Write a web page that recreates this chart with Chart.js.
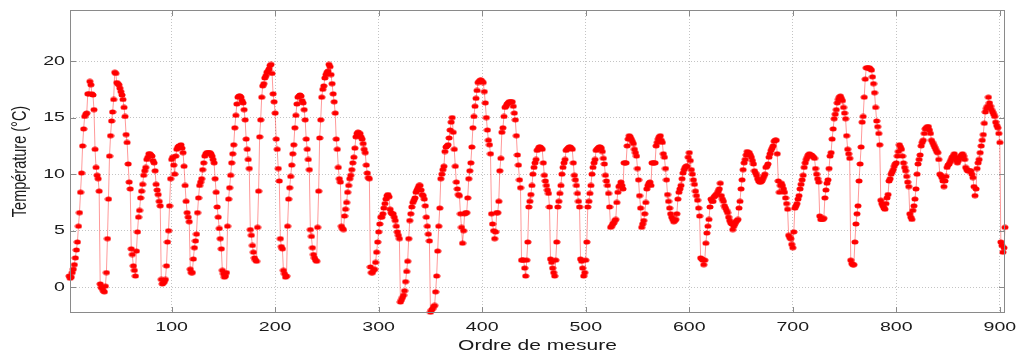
<!DOCTYPE html>
<html>
<head>
<meta charset="utf-8">
<script src="https://cdn.jsdelivr.net/npm/chart.js@4.4.1/dist/chart.umd.min.js"></script>
<style>
  html, body { margin: 0; padding: 0; background: #ffffff; }
  #wrap { width: 1022px; height: 356px; }
</style>
</head>
<body>
<div id="wrap"><canvas id="chart" width="1022" height="356"></canvas></div>
<script>
// Température mesurée, dans l'ordre des mesures (1, 2, 3, ...)
const temperature = [
  1.0, 0.8, 0.9, 1.3, 1.6, 2.0, 2.6, 3.3, 4.0, 5.4,
  6.6, 8.4, 10.1, 12.5, 14.0, 15.1, 15.3, 15.4, 17.1, 17.1,
  18.2, 17.9, 17.1, 17.0, 15.7, 12.2, 10.6, 9.9, 9.6, 8.5,
  0.3, 0.0, -0.1, -0.3, -0.4, 0.1, 1.3, 4.3, 7.8, 11.6,
  13.4, 14.7, 15.5, 16.6, 19.0, 18.9, 18.1, 18.0, 17.9, 17.6,
  17.3, 17.0, 16.6, 15.9, 15.1, 13.5, 12.8, 10.9, 9.3, 8.7,
  3.4, 2.9, 1.9, 1.5, 1.0, 3.2, 4.9, 6.2, 6.8, 7.9,
  8.5, 9.1, 9.9, 10.3, 10.6, 11.3, 11.5, 11.8, 11.8, 11.7,
  11.6, 11.2, 11.0, 10.3, 9.1, 8.6, 8.2, 7.6, 7.2, 0.7,
  0.3, 0.4, 0.5, 0.7, 1.9, 4.0, 5.0, 7.2, 9.6, 11.3,
  11.5, 10.8, 10.0, 11.6, 12.2, 12.4, 12.5, 12.5, 12.6, 12.3,
  11.9, 10.7, 9.0, 7.6, 6.6, 6.2, 5.8, 1.6, 1.3, 1.3,
  2.5, 3.5, 4.1, 4.7, 6.6, 7.9, 9.0, 9.3, 9.6, 10.4,
  11.0, 11.6, 11.8, 11.9, 11.9, 11.9, 11.9, 11.8, 11.6, 11.3,
  11.0, 9.6, 8.4, 7.1, 6.2, 5.2, 4.3, 3.4, 1.5, 1.2,
  0.9, 1.0, 1.3, 5.4, 7.8, 8.8, 9.9, 11.0, 11.8, 12.6,
  14.1, 15.2, 16.2, 16.8, 16.9, 16.9, 16.8, 16.5, 16.3, 15.7,
  14.8, 13.1, 12.2, 11.3, 10.5, 5.1, 4.6, 3.7, 3.1, 2.6,
  2.4, 2.3, 5.3, 8.5, 13.3, 14.8, 16.8, 17.8, 18.0, 18.5,
  18.7, 19.0, 19.1, 19.3, 19.6, 19.7, 18.9, 17.1, 16.4, 15.4,
  13.1, 12.2, 10.5, 9.4, 4.3, 3.6, 3.4, 1.5, 1.2, 0.9,
  1.0, 5.4, 7.8, 8.8, 9.8, 10.8, 11.8, 12.6, 14.1, 15.2,
  16.2, 16.8, 16.9, 17.0, 16.9, 16.5, 16.3, 15.7, 14.8, 13.1,
  12.2, 11.3, 10.4, 5.1, 4.5, 3.5, 2.9, 2.6, 2.4, 2.3,
  5.3, 8.5, 13.2, 14.8, 16.8, 17.5, 17.8, 18.5, 18.8, 19.0,
  19.1, 19.7, 19.5, 18.8, 18.0, 17.1, 16.4, 15.4, 13.1, 12.2,
  10.6, 9.6, 9.3, 5.4, 5.2, 5.1, 6.3, 6.9, 7.5, 8.4,
  9.0, 9.6, 9.9, 10.4, 11.0, 11.5, 12.3, 13.3, 13.6, 13.7,
  13.6, 13.6, 13.3, 13.1, 12.7, 12.2, 11.9, 10.8, 10.1, 9.7,
  9.6, 1.8, 1.3, 1.3, 1.5, 1.6, 2.2, 3.1, 4.0, 4.9,
  5.6, 6.2, 6.2, 6.5, 7.0, 7.4, 7.8, 8.1, 8.2, 8.0,
  6.9, 6.6, 6.5, 6.5, 6.2, 5.9, 5.4, 4.9, 4.6, 4.3,
  -1.3, -1.1, -0.9, -0.7, -0.3, 0.5, 1.4, 2.3, 4.3, 5.9,
  6.5, 7.1, 7.5, 7.7, 7.9, 8.4, 8.6, 8.8, 9.0, 9.0,
  8.6, 8.2, 8.1, 7.8, 7.2, 6.2, 5.4, 4.7, 4.1, -2.2,
  -2.0, -1.9, -1.7, -1.6, -0.4, 1.0, 3.2, 5.4, 7.0, 9.6,
  10.0, 10.4, 10.7, 12.0, 12.4, 12.5, 12.6, 13.2, 13.9, 14.6,
  15.0, 13.7, 12.2, 10.7, 9.3, 8.7, 8.2, 8.1, 6.5, 5.3,
  3.9, 5.0, 6.5, 6.6, 6.6, 7.9, 9.6, 10.3, 11.0, 12.4,
  14.1, 15.1, 16.0, 16.7, 17.4, 18.1, 18.2, 18.3, 18.3, 18.2,
  18.1, 17.3, 16.3, 15.0, 13.9, 13.0, 12.6, 11.8, 6.5, 5.6,
  5.0, 4.3, 4.9, 6.6, 6.6, 7.6, 10.3, 11.4, 13.7, 14.1,
  15.1, 15.9, 16.0, 16.2, 16.3, 16.4, 16.4, 16.4, 16.4, 16.0,
  15.4, 14.8, 13.4, 11.7, 10.8, 9.5, 8.8, 2.4, 2.4, 2.4,
  1.7, 1.0, 2.4, 4.0, 7.1, 7.6, 8.2, 9.0, 10.0, 10.6,
  11.0, 11.3, 12.1, 12.2, 12.4, 12.4, 12.3, 12.2, 11.0, 9.9,
  9.4, 9.0, 8.6, 8.3, 7.1, 2.5, 2.2, 1.7, 1.3, 1.0,
  2.4, 4.0, 7.1, 7.6, 8.3, 9.0, 10.0, 10.6, 11.0, 11.3,
  12.1, 12.2, 12.3, 12.4, 12.4, 12.3, 12.2, 11.0, 9.9, 9.5,
  9.0, 8.3, 7.6, 7.1, 2.5, 2.3, 1.7, 1.0, 1.3, 2.4,
  4.0, 7.1, 7.6, 8.3, 9.0, 10.0, 10.6, 11.0, 11.3, 12.1,
  12.2, 12.3, 12.4, 12.4, 12.3, 12.0, 11.4, 10.9, 9.9, 9.4,
  9.0, 8.3, 7.1, 5.3, 5.4, 5.6, 5.7, 5.9, 6.0, 7.5,
  8.4, 8.9, 9.0, 9.3, 9.0, 8.7, 11.0, 11.0, 11.0, 12.5,
  13.1, 13.4, 13.3, 13.1, 12.9, 12.7, 12.2, 11.9, 11.6, 10.5,
  9.5, 8.1, 7.0, 5.3, 5.6, 5.9, 6.5, 7.5, 8.7, 9.0,
  9.2, 9.3, 9.0, 11.0, 11.0, 11.0, 11.0, 12.5, 12.8, 13.1,
  13.3, 13.4, 13.0, 12.8, 11.8, 11.5, 10.5, 9.5, 8.2, 7.6,
  7.0, 6.5, 6.2, 6.0, 5.8, 5.9, 6.0, 6.5, 7.8, 8.4,
  8.7, 9.0, 9.6, 10.1, 10.4, 10.6, 10.7, 10.7, 11.5, 11.9,
  11.2, 10.4, 10.0, 9.5, 9.1, 8.5, 8.1, 7.7, 7.0, 6.3,
  2.6, 2.5, 2.4, 2.0, 2.4, 3.9, 4.8, 5.4, 6.0, 7.1,
  7.8, 7.6, 7.6, 8.0, 8.1, 8.2, 8.3, 8.5, 8.7, 9.2,
  8.1, 7.8, 7.6, 7.2, 7.0, 6.8, 6.6, 6.2, 5.9, 5.7,
  5.6, 5.1, 5.4, 5.6, 5.8, 5.9, 6.0, 7.0, 7.6, 8.7,
  9.5, 10.4, 11.0, 11.3, 11.7, 12.0, 11.9, 11.9, 11.7, 11.5,
  11.2, 10.9, 10.3, 10.1, 9.9, 9.6, 9.4, 9.3, 9.3, 9.4,
  9.6, 9.8, 10.0, 10.6, 10.7, 10.9, 11.5, 11.8, 12.1, 12.3,
  12.5, 12.9, 13.0, 13.0, 11.8, 9.4, 8.4, 9.0, 9.2, 9.0,
  8.7, 8.4, 7.9, 7.4, 6.9, 4.6, 4.4, 4.3, 3.8, 3.5,
  4.9, 7.0, 7.2, 7.4, 7.8, 8.1, 8.7, 9.1, 9.5, 9.9,
  10.6, 11.0, 11.3, 11.5, 11.7, 11.8, 11.7, 11.7, 11.6, 11.5,
  11.4, 10.5, 10.0, 9.6, 9.3, 6.3, 6.0, 6.0, 6.0, 6.1,
  7.9, 8.6, 9.2, 9.5, 10.5, 11.6, 11.9, 13.1, 14.0, 14.9,
  15.3, 15.7, 16.3, 16.6, 16.8, 16.9, 16.7, 16.5, 15.9, 15.4,
  14.9, 13.4, 12.2, 11.8, 11.4, 2.4, 2.1, 2.0, 2.0, 4.0,
  5.6, 6.5, 7.2, 9.4, 10.9, 12.4, 14.6, 15.1, 16.8, 18.4,
  19.4, 19.4, 19.4, 19.4, 19.3, 19.2, 18.6, 18.0, 17.2, 15.9,
  14.7, 14.2, 13.6, 12.6, 7.7, 7.4, 7.2, 7.0, 6.9, 7.4,
  7.9, 8.2, 9.4, 9.6, 10.0, 10.2, 10.4, 10.7, 10.9, 11.0,
  11.6, 12.0, 12.6, 12.4, 12.2, 11.6, 11.0, 10.6, 10.3, 9.8,
  9.3, 8.9, 6.5, 6.2, 6.0, 6.8, 7.2, 7.8, 8.7, 10.0,
  10.9, 11.3, 11.7, 12.5, 12.8, 13.0, 13.6, 14.0, 14.1, 14.2,
  14.2, 13.9, 13.6, 13.0, 12.8, 12.6, 12.4, 12.2, 12.0, 11.9,
  11.3, 10.0, 9.9, 9.7, 9.4, 8.9, 9.4, 9.8, 10.6, 10.8,
  10.9, 11.1, 11.3, 11.5, 11.6, 11.8, 11.5, 11.2, 11.0, 11.2,
  11.4, 11.6, 11.7, 11.8, 11.6, 11.3, 10.6, 10.4, 10.3, 10.3,
  10.3, 10.3, 10.0, 9.7, 8.9, 8.1, 8.7, 10.5, 11.0, 11.3,
  11.9, 12.5, 13.0, 13.5, 14.5, 15.5, 15.8, 16.0, 16.8, 16.3,
  16.0, 15.7, 15.5, 15.3, 15.1, 14.6, 14.3, 14.1, 13.6, 12.8,
  4.0, 3.7, 3.1, 3.5, 5.3
];

// Graduations et titres des axes
const xTicks = [100, 200, 300, 400, 500, 600, 700, 800, 900];
const yTicks = [0, 5, 10, 15, 20];
const xTitle = 'Ordre de mesure';
const yTitle = 'Température (°C)';

// Points (ordre, température) pour l'axe linéaire
const points = temperature.map((t, i) => ({ x: i + 1, y: t }));

// Marqueur : disque rouge légèrement aplati
const dot = document.createElement('canvas');
dot.width = 8; dot.height = 6;
{
  const g = dot.getContext('2d');
  g.fillStyle = '#ff0000';
  g.beginPath();
  g.ellipse(4, 3, 3.5, 2.5, 0, 0, Math.PI * 2);
  g.fill();
}

const FONT = '"Liberation Sans", Arial, Helvetica, sans-serif';
const SX = 1.45; // étirement horizontal des textes

// Cadre, graduations internes, libellés et titres
const axesFrame = {
  id: 'axesFrame',
  afterDraw(chart) {
    const { ctx, chartArea: a, scales: { x, y } } = chart;
    ctx.save();
    ctx.strokeStyle = '#8a8a8a';
    ctx.lineWidth = 1;
    ctx.beginPath();
    xTicks.forEach(v => {
      const p = Math.round(x.getPixelForValue(v)) + 0.5;
      ctx.moveTo(p, a.bottom); ctx.lineTo(p, a.bottom - 6);
      ctx.moveTo(p, a.top); ctx.lineTo(p, a.top + 6);
    });
    yTicks.forEach(v => {
      const p = Math.round(y.getPixelForValue(v)) + 0.5;
      ctx.moveTo(a.left, p); ctx.lineTo(a.left + 6, p);
      ctx.moveTo(a.right, p); ctx.lineTo(a.right - 6, p);
    });
    ctx.stroke();
    ctx.strokeRect(a.left + 0.5, a.top + 0.5, a.right - a.left - 1, a.bottom - a.top - 1);

    ctx.fillStyle = '#1a1a1a';
    ctx.textBaseline = 'middle';
    ctx.font = '13.5px ' + FONT;
    ctx.textAlign = 'center';
    xTicks.forEach(v => {
      ctx.save();
      ctx.translate(x.getPixelForValue(v), a.bottom + 14);
      ctx.scale(SX, 1);
      ctx.fillText(String(v), 0, 0);
      ctx.restore();
    });
    ctx.textAlign = 'right';
    yTicks.forEach(v => {
      ctx.save();
      ctx.translate(a.left - 5, y.getPixelForValue(v));
      ctx.scale(SX, 1);
      ctx.fillText(String(v), 0, 0);
      ctx.restore();
    });

    ctx.font = '14.5px ' + FONT;
    ctx.textAlign = 'center';
    ctx.save();
    ctx.translate((a.left + a.right) / 2, a.bottom + 33);
    ctx.scale(SX, 1);
    ctx.fillText(xTitle, 0, 0);
    ctx.restore();

    ctx.save();
    ctx.translate(20, (a.top + a.bottom) / 2);
    ctx.scale(SX, 1);
    ctx.rotate(-Math.PI / 2);
    ctx.fillText(yTitle, 0, 0);
    ctx.restore();
    ctx.restore();
  }
};

new Chart(document.getElementById('chart'), {
  type: 'line',
  data: {
    datasets: [{
      data: points,
      borderColor: 'rgba(255, 0, 0, 0.4)',
      borderWidth: 1,
      tension: 0,
      pointStyle: dot,
      pointRadius: 3.5,
      pointHoverRadius: 3.5,
      pointBackgroundColor: '#ff0000',
      pointBorderWidth: 0,
      clip: false
    }]
  },
  options: {
    responsive: false,
    devicePixelRatio: 1,
    animation: false,
    events: [],
    layout: { padding: { left: 70, top: 10, right: 17, bottom: 43 } },
    plugins: { legend: { display: false }, tooltip: { enabled: false } },
    scales: {
      x: {
        type: 'linear',
        min: 1.83,
        max: 905,
        afterBuildTicks: s => { s.ticks = xTicks.map(v => ({ value: v })); },
        ticks: { display: false },
        grid: { color: '#c4c4c4', lineWidth: 1, drawTicks: false },
        border: { display: false, dash: [1, 2] }
      },
      y: {
        type: 'linear',
        min: -2.27,
        max: 24.51,
        afterBuildTicks: s => { s.ticks = yTicks.map(v => ({ value: v })); },
        ticks: { display: false },
        grid: { color: '#c4c4c4', lineWidth: 1, drawTicks: false },
        border: { display: false, dash: [1, 2] }
      }
    }
  },
  plugins: [axesFrame]
});
</script>
</body>
</html>
